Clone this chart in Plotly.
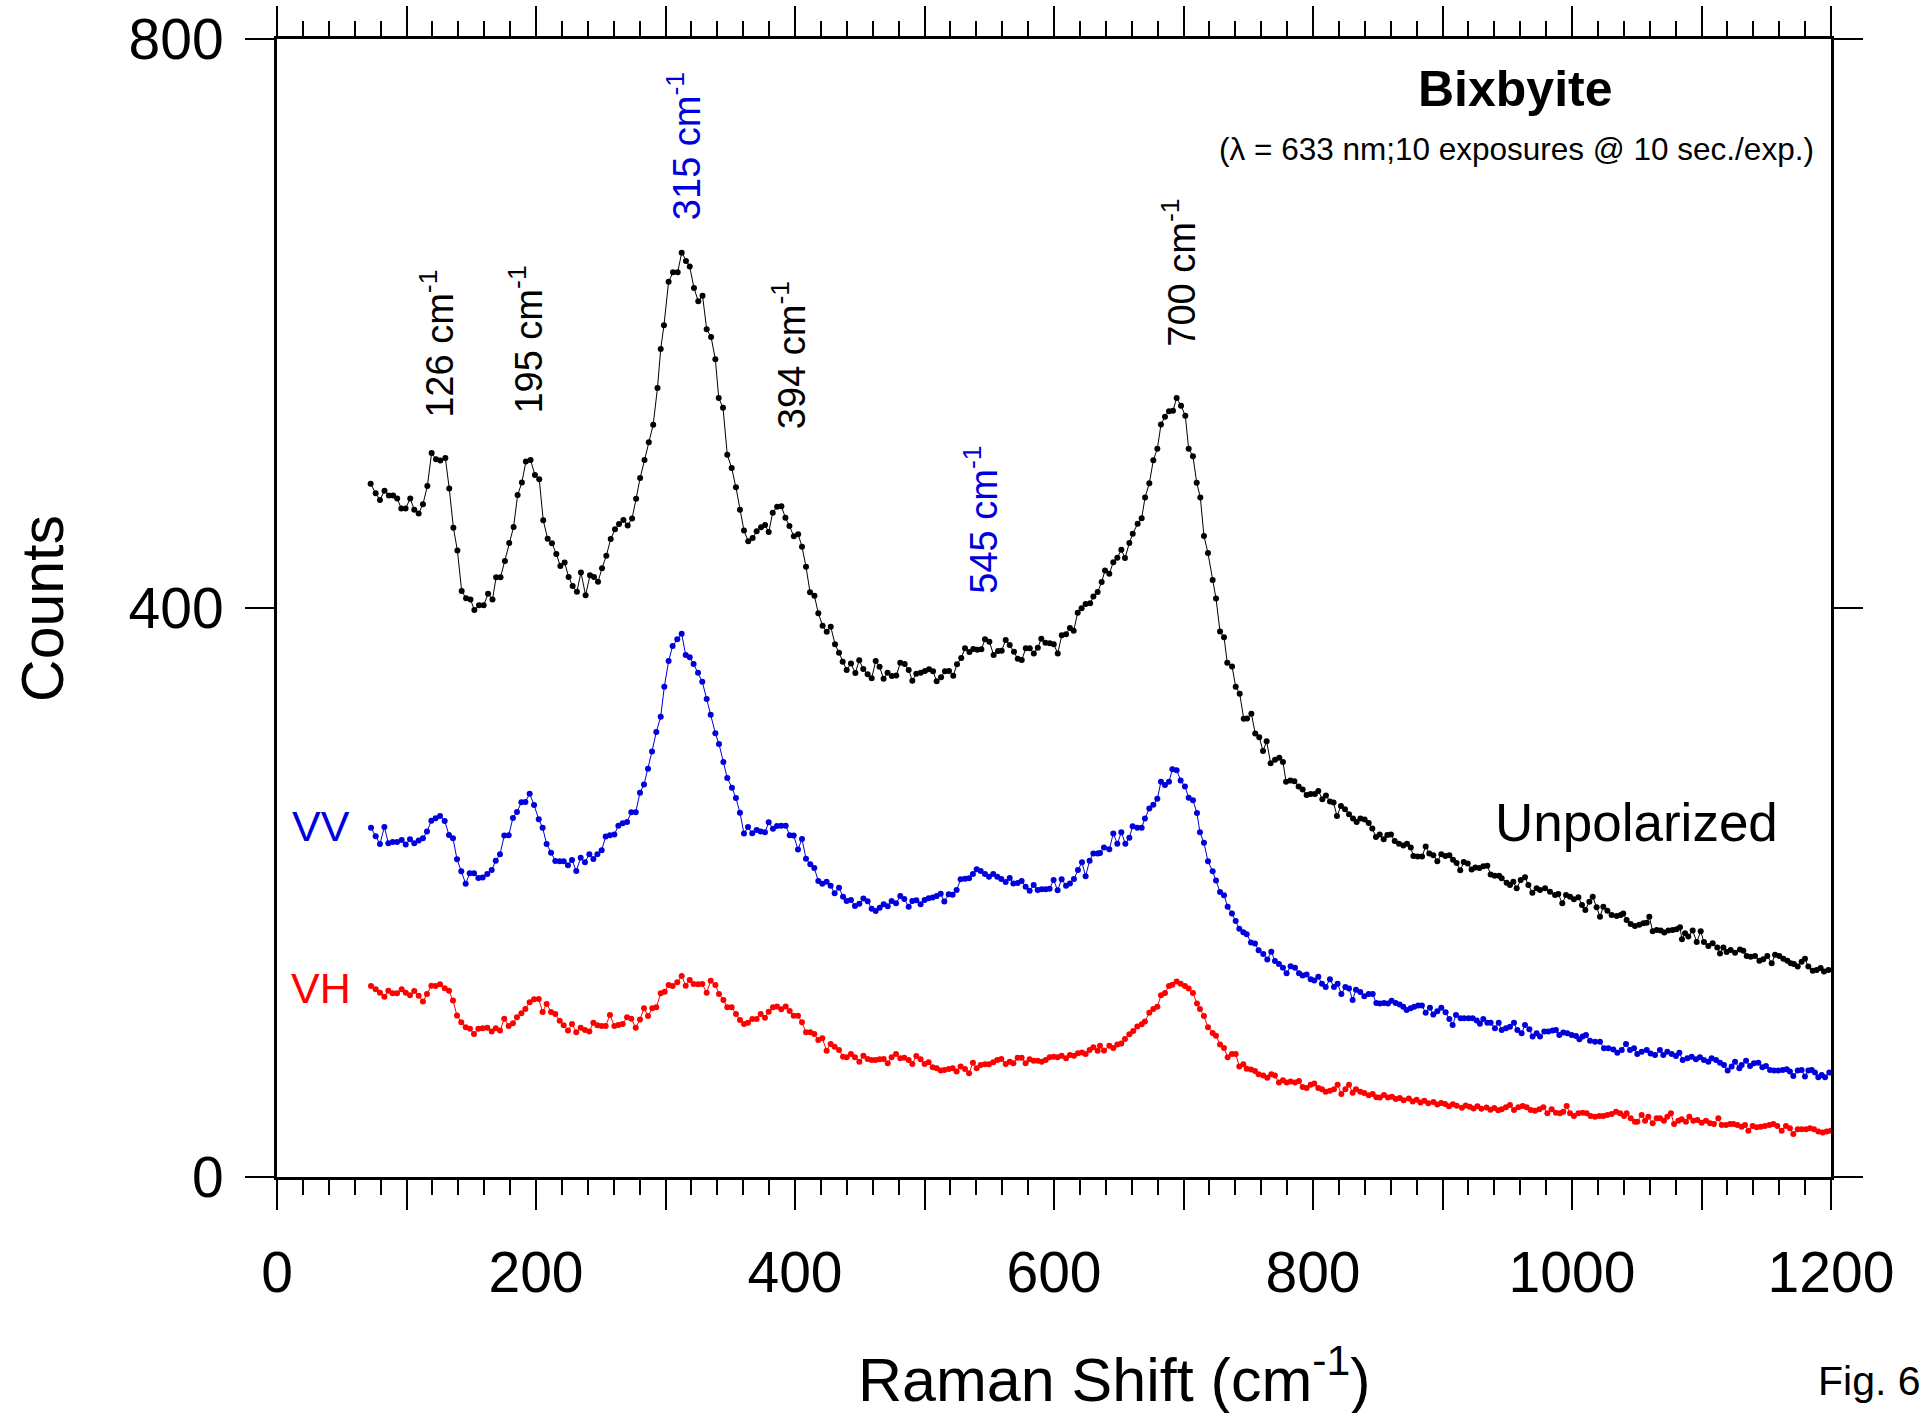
import plotly.graph_objects as go

# ---- data (Raman shift cm-1, counts) ----
UNPOLARIZED = [
(72.3,487.4),(76.2,480.6),(79.5,476.0),(83.0,482.5),(86.4,479.0),(89.7,479.0),(92.8,477.0),(96.0,470.0),
(99.3,470.0),(102.9,477.0),(106.0,469.0),(109.4,466.5),(112.7,473.0),(116.1,485.7),(119.4,509.0),(122.8,504.6),
(126.1,503.7),(130.0,505.5),(133.0,484.0),(136.2,456.5),(139.3,440.5),(142.6,412.0),(146.0,406.8),(149.4,406.0),
(152.4,398.6),(156.0,402.0),(159.6,402.0),(163.0,410.0),(166.4,406.0),(169.2,421.6),(172.6,421.6),(176.0,433.0),
(179.3,445.7),(182.7,457.0),(185.8,479.4),(189.1,488.3),(192.2,503.0),(195.8,504.0),(199.2,493.5),(202.5,490.5),
(205.6,461.6),(209.0,448.7),(212.3,445.5),(215.7,438.0),(218.8,429.5),(222.1,432.0),(225.2,421.8),(228.3,415.5),
(231.6,411.5),(234.7,425.0),(238.3,409.0),(241.7,423.0),(244.8,421.8),(247.9,418.5),(251.0,428.0),(254.3,436.8),
(257.7,448.5),(261.0,455.3),(264.1,459.0),(267.5,461.9),(270.8,458.0),(274.2,463.0),(277.3,476.8),(280.4,491.4),
(283.8,504.0),(287.1,516.5),(290.5,528.9),(293.8,554.7),(296.3,582.0),(298.8,598.7),(302.4,629.4),(305.8,636.0),
(309.4,636.0),(312.5,649.8),(315.8,644.0),(318.7,640.0),(322.0,625.0),(325.3,615.6),(328.6,619.5),(331.8,596.0),
(335.2,590.5),(338.5,574.8),(341.1,547.6),(344.4,540.8),(347.7,507.8),(351.1,498.4),(354.4,484.8),(357.5,469.0),
(360.6,454.4),(363.9,446.9),(367.3,449.2),(370.4,453.9),(373.8,456.7),(376.9,458.3),(379.7,453.4),(382.8,467.0),
(386.2,471.2),(389.5,471.5),(392.6,463.5),(395.7,457.6),(399.1,450.4),(402.4,451.8),(405.4,443.1),(408.5,429.0),
(411.6,411.0),(415.0,408.6),(418.0,396.3),(421.3,387.6),(424.5,383.3),(427.6,386.9),(430.9,374.5),(434.0,368.6),
(436.8,362.3),(439.9,356.4),(443.2,360.9),(446.6,354.3),(449.6,363.2),(452.7,357.1),(456.1,353.4),(459.2,350.6),
(462.3,362.7),(465.3,358.7),(468.4,350.3),(471.5,354.5),(474.8,352.2),(478.2,352.5),(481.3,361.5),(484.7,360.6),
(487.8,356.4),(490.6,348.9),(493.7,353.8),(497.1,354.5),(500.4,355.7),(503.5,356.9),(506.6,355.5),(509.4,348.5),
(512.8,351.3),(515.8,355.5),(518.9,355.7),(522.2,352.4),(525.1,360.4),(528.4,364.8),(531.3,371.7),(534.7,369.1),
(537.7,371.2),(540.8,370.7),(543.9,371.0),(546.7,378.0),(550.1,376.3),(553.4,367.0),(556.8,369.8),(559.6,370.0),
(562.7,377.5),(565.8,374.0),(569.1,369.3),(572.0,364.4),(575.1,363.4),(578.2,371.7),(581.3,371.7),(584.4,368.1),
(587.5,372.1),(590.2,378.4),(593.4,375.6),(596.7,375.2),(599.8,374.5),(602.9,368.1),(606.0,380.8),(609.3,381.5),
(612.3,386.0),(615.2,384.0),(618.3,396.7),(621.3,399.8),(624.4,402.8),(627.9,403.3),(630.4,408.0),(633.7,411.2),
(636.8,418.3),(639.4,426.3),(642.7,424.1),(645.8,432.2),(648.9,435.4),(652.0,440.9),(654.8,435.1),(658.2,445.7),
(660.8,452.2),(664.6,459.3),(667.7,463.1),(670.3,477.7),(673.6,487.7),(676.7,503.8),(679.8,511.9),(682.6,529.0),
(685.7,534.5),(688.8,538.4),(691.9,538.7),(694.7,547.7),(698.1,542.2),(701.4,535.1),(704.0,511.9),(707.3,506.7),
(710.2,488.0),(713.0,477.7),(715.8,450.6),(718.9,438.6),(722.5,419.6),(725.1,406.7),(728.2,383.4),(731.3,379.5),
(733.8,361.5),(737.5,358.9),(740.3,344.7),(743.4,339.8),(746.5,322.1),(749.1,322.4),(752.4,325.6),(755.4,311.8),
(758.5,309.2),(761.4,299.5),(764.2,306.3),(767.3,290.8),(770.7,293.4),(774.0,294.7),(776.8,291.8),(779.2,277.9),
(782.5,278.8),(785.6,278.2),(788.9,274.6),(792.0,272.4),(795.1,268.5),(798.2,269.2),(801.5,269.2),(804.1,271.4),
(807.2,265.6),(810.0,268.2),(813.1,264.0),(815.9,263.3),(818.5,253.7),(821.6,260.8),(824.7,258.5),(827.8,255.0),
(830.9,252.1),(833.7,249.5),(836.6,252.1),(839.9,251.4),(843.0,248.8),(845.8,245.0),(848.6,239.1),(851.5,240.8),
(854.6,237.5),(857.4,240.4),(860.2,240.8),(863.1,236.2),(866.4,234.3),(869.8,233.0),(872.6,234.3),(875.5,231.7),
(877.5,225.6),(880.8,225.3),(884.2,225.3),(887.0,232.4),(889.8,227.5),(892.9,226.2),(896.0,222.0),(899.1,226.9),
(902.2,225.6),(905.3,226.2),(908.1,223.0),(910.9,220.7),(913.7,215.6),(916.4,221.4),(919.5,220.4),(922.5,216.2),
(925.4,217.5),(928.5,217.2),(931.5,218.5),(934.6,218.8),(937.2,212.7),(940.3,211.7),(943.7,211.7),(945.7,210.0),
(949.5,206.9),(952.1,205.3),(954.7,207.6),(957.3,202.9),(960.4,208.8),(963.7,210.7),(966.3,205.3),(969.4,199.9),
(972.7,202.9),(975.3,201.7),(979.2,202.9),(983.0,200.6),(986.9,198.2),(989.4,198.9),(992.5,192.4),(995.4,198.2),
(998.5,197.1),(1001.5,195.2),(1004.9,196.6),(1007.7,191.2),(1010.3,187.7),(1013.4,193.5),(1016.0,197.1),(1019.0,189.6),
(1021.6,183.0),(1024.2,190.0),(1027.3,187.2),(1030.6,184.2),(1034.5,183.5),(1037.6,184.2),(1039.6,185.3),(1042.2,180.7),
(1045.3,177.8),(1048.6,176.4),(1052.0,177.4),(1055.1,178.3),(1057.7,178.8),(1059.7,183.0),(1062.3,172.7),(1065.4,173.6),
(1068.5,173.2),(1071.3,171.8),(1074.4,173.2),(1077.7,173.6),(1080.8,174.1),(1083.4,175.5),(1084.9,167.1),(1087.3,171.3),
(1089.8,169.0),(1093.2,173.2),(1096.3,165.2),(1099.4,172.7),(1101.9,165.2),(1105.3,162.4),(1108.6,164.3),(1112.2,161.4),
(1114.3,157.2),(1116.9,161.4),(1119.4,158.2),(1122.5,159.6),(1125.9,157.7),(1129.7,160.0),(1132.3,159.1),(1134.9,155.4),
(1138.0,154.9),(1141.3,155.4),(1144.7,152.1),(1147.7,153.0),(1150.8,155.4),(1154.2,150.2),(1156.8,156.3),(1160.1,155.4),
(1163.2,153.5),(1166.3,152.1),(1168.9,150.2),(1171.4,149.7),(1174.3,147.9),(1177.3,151.4),(1179.9,153.5),(1182.5,147.9),
(1185.9,145.0),(1189.0,145.5),(1192.0,146.9),(1194.6,144.4),(1198.0,145.5),
]

VV = [
(72.6,245.6),(76.2,239.5),(79.5,234.1),(82.9,246.1),(86.0,234.6),(89.3,235.5),(92.7,235.5),(96.3,236.9),
(99.4,233.7),(102.7,237.4),(106.0,234.6),(109.4,236.5),(112.7,238.1),(115.8,242.8),(119.2,250.5),(122.5,252.2),
(125.9,253.8),(129.5,250.3),(132.8,240.5),(135.9,238.1),(139.0,223.4),(142.3,214.9),(145.7,206.2),(148.8,213.5),
(152.1,213.5),(155.5,210.2),(158.8,210.5),(162.4,213.0),(165.8,215.8),(168.9,222.4),(172.2,226.9),(175.5,240.0),
(178.9,240.2),(182.2,252.4),(185.3,256.6),(188.7,263.4),(191.8,263.6),(195.1,269.5),(198.5,261.5),(202.1,251.5),
(205.1,245.6),(208.2,234.1),(211.6,228.0),(214.9,222.2),(218.3,221.9),(221.4,221.9),(224.7,219.1),(227.8,222.9),
(231.1,215.1),(234.5,224.5),(237.8,221.2),(241.2,226.9),(244.3,223.6),(247.4,226.9),(250.7,229.7),(253.8,239.3),
(257.1,240.2),(260.5,240.7),(263.6,247.0),(266.9,248.7),(270.3,249.6),(273.6,256.4),(277.0,256.4),(280.3,270.2),
(283.4,276.0),(286.5,287.0),(289.6,299.2),(292.9,312.8),(296.3,323.6),(299.1,344.7),(302.4,362.7),(305.5,373.3),
(309.1,378.0),(312.5,381.9),(315.6,366.9),(318.7,365.3),(321.7,360.6),(325.1,354.5),(328.4,348.2),(331.8,336.0),
(334.9,325.0),(338.5,311.9),(341.3,304.4),(344.7,291.7),(347.7,280.5),(351.3,273.7),(354.4,266.4),(357.5,256.1),
(360.6,241.4),(363.7,246.0),(367.0,241.6),(370.4,243.9),(373.5,242.8),(376.8,242.3),(379.7,249.3),(383.0,244.9),
(386.1,246.7),(389.4,247.0),(392.8,247.0),(395.9,240.2),(399.0,240.0),(402.3,230.3),(405.4,237.6),(408.5,223.8),
(411.8,219.8),(414.9,217.2),(418.0,208.1),(421.1,206.2),(424.4,207.6),(427.5,204.8),(430.6,199.4),(434.0,203.4),
(437.1,197.1),(439.9,194.0),(443.2,194.7),(446.3,190.5),(449.7,192.1),(452.8,195.7),(456.1,193.8),(459.2,188.6),
(462.3,187.0),(465.4,189.3),(468.5,191.7),(471.6,190.3),(474.6,194.0),(478.0,192.4),(481.3,197.5),(484.4,195.4),
(487.8,190.0),(490.6,194.0),(493.7,194.5),(497.0,191.7),(500.1,194.7),(503.2,195.9),(506.3,196.4),(509.4,197.5),
(512.5,199.2),(515.3,193.6),(518.7,198.7),(521.7,198.5),(524.8,201.8),(527.9,209.3),(531.3,209.7),(534.4,210.0),
(537.4,213.0),(540.3,216.3),(543.4,215.1),(546.7,213.0),(549.8,211.1),(553.1,213.0),(556.2,211.1),(559.3,209.5),
(562.7,207.4),(565.8,210.2),(568.6,206.4),(571.9,206.7),(575.0,208.1),(578.1,204.1),(581.2,201.3),(584.3,205.3),
(587.4,201.8),(590.5,202.2),(593.6,202.2),(596.6,202.7),(599.7,208.8),(602.8,201.5),(605.9,209.3),(609.3,204.8),
(612.3,206.4),(615.4,209.5),(618.5,215.8),(621.6,221.2),(624.4,211.4),(627.5,222.4),(630.4,227.5),(633.7,227.5),
(635.5,227.8),(638.6,231.7),(642.7,230.4),(645.8,241.4),(648.9,234.3),(652.0,242.3),(655.1,234.3),(658.2,238.5),
(660.7,246.5),(664.3,245.6),(667.7,245.6),(670.2,252.0),(673.6,259.1),(676.7,261.7),(679.8,265.9),(682.6,277.9),
(685.7,275.6),(688.8,277.9),(691.4,286.6),(694.7,285.9),(697.8,278.8),(701.1,274.6),(704.0,266.6),(707.3,264.9),
(710.4,255.9),(712.7,242.3),(715.8,234.9),(718.9,222.0),(722.5,214.9),(725.1,208.4),(728.2,200.4),(731.3,198.1),
(734.1,190.0),(737.4,185.2),(740.3,180.0),(743.1,174.5),(746.2,172.0),(748.8,170.7),(752.1,164.9),(755.2,164.2),
(758.0,159.4),(761.6,156.8),(764.7,152.9),(767.8,158.4),(770.6,151.9),(773.7,149.7),(776.8,147.1),(779.6,143.2),
(782.7,148.1),(786.1,147.1),(789.2,143.2),(792.0,141.6),(795.1,142.3),(798.2,139.1),(801.0,138.1),(804.1,140.7),
(806.9,135.8),(809.8,133.6),(813.1,139.1),(816.2,133.6),(819.0,135.8),(821.9,128.7),(825.0,133.6),(827.8,132.6),
(830.6,124.5),(833.2,131.6),(836.5,130.0),(839.6,127.1),(843.0,128.7),(846.1,128.7),(848.9,122.3),(851.7,121.9),
(854.8,122.3),(857.9,121.9),(860.7,123.9),(863.8,122.3),(866.9,121.3),(869.7,119.7),(872.3,117.4),(875.4,118.7),
(878.2,119.7),(881.3,120.6),(884.1,120.6),(887.0,115.5),(890.3,119.0),(892.9,114.2),(896.0,116.5),(899.1,119.0),
(902.4,115.8),(905.3,111.0),(907.8,106.8),(910.4,113.9),(914.0,111.6),(916.8,111.6),(920.2,111.6),(923.3,111.6),
(926.4,110.0),(928.9,107.7),(931.5,111.0),(934.6,108.4),(937.2,108.4),(940.5,104.5),(943.4,108.4),(945.7,103.3),
(949.0,104.5),(952.1,105.7),(955.2,108.5),(957.8,103.3),(961.1,101.0),(963.7,106.9),(967.1,103.8),(969.6,98.7),
(972.7,101.0),(975.3,98.7),(978.6,102.2),(981.7,102.2),(985.1,102.9),(987.6,103.3),(990.2,99.8),(993.3,101.5),
(996.4,101.0),(999.7,99.8),(1003.1,99.1),(1005.7,96.8),(1008.2,98.7),(1010.8,99.8),(1013.9,95.8),(1017.8,95.1),
(1021.6,95.1),(1024.7,90.5),(1028.1,90.5),(1031.9,89.7),(1035.0,87.4),(1038.4,89.3),(1041.7,93.5),(1044.8,89.3),
(1047.9,90.5),(1050.4,86.5),(1053.8,88.1),(1057.7,89.3),(1060.7,86.9),(1064.1,85.8),(1067.9,89.3),(1070.5,85.8),
(1073.6,88.1),(1077.0,86.5),(1080.3,85.1),(1082.9,87.4),(1085.5,82.2),(1089.1,83.4),(1092.4,84.6),(1095.7,82.7),
(1098.8,84.1),(1101.9,82.2),(1105.3,81.1),(1107.8,83.4),(1111.2,82.2),(1114.3,80.4),(1117.4,78.7),(1120.2,74.8),
(1123.3,77.6),(1125.9,81.1),(1129.2,76.4),(1131.0,78.7),(1134.4,81.8),(1137.5,78.0),(1140.5,79.9),(1143.9,80.4),
(1147.0,77.1),(1149.8,78.0),(1152.9,75.2),(1156.0,74.8),(1159.3,74.8),(1162.7,75.2),(1165.8,75.7),(1168.3,74.1),
(1170.9,71.0),(1174.3,74.8),(1177.3,75.2),(1179.9,70.6),(1182.5,74.8),(1185.1,75.2),(1187.6,73.4),(1190.2,70.1),
(1192.8,71.7),(1195.4,70.1),(1198.7,73.4),
]

VH = [
(72.6,134.3),(76.2,132.0),(79.5,129.6),(82.9,126.8),(86.0,131.0),(89.3,129.2),(92.7,129.2),(96.3,132.0),
(99.4,129.6),(102.7,127.8),(106.0,130.8),(109.4,127.5),(112.7,123.3),(115.8,128.7),(119.2,134.5),(122.5,134.3),
(125.9,135.5),(129.5,132.7),(132.8,131.0),(135.9,124.0),(139.0,113.5),(142.3,108.8),(145.7,105.3),(149.0,104.3),
(152.1,100.6),(155.5,104.3),(158.8,104.6),(162.4,105.0),(165.8,102.2),(168.9,104.6),(172.2,102.9),(175.5,111.3),
(178.9,106.2),(182.2,108.1),(185.3,112.3),(188.7,115.1),(191.8,118.1),(195.1,122.8),(198.5,124.9),(202.1,125.2),
(205.1,116.0),(208.2,121.7),(211.6,116.0),(214.9,114.6),(218.3,109.9),(221.4,106.7),(224.7,102.9),(227.8,107.6),
(231.1,101.8),(234.5,105.0),(237.8,103.4),(241.2,102.2),(244.3,108.5),(247.4,106.7),(250.7,106.2),(253.8,106.2),
(257.1,113.9),(260.5,106.2),(263.6,106.9),(266.9,107.6),(270.3,112.3),(273.6,111.3),(277.0,105.0),(280.3,110.8),
(283.4,118.6),(286.5,113.2),(289.8,118.6),(292.9,119.3),(296.3,129.1),(299.4,130.3),(302.4,135.0),(305.5,134.3),
(309.1,136.9),(312.5,141.3),(315.6,134.5),(318.7,138.5),(321.7,135.7),(325.1,135.5),(328.4,135.7),(331.8,129.6),
(334.9,138.0),(338.5,135.0),(341.3,128.7),(344.7,124.4),(347.7,119.3),(351.1,119.3),(354.4,114.6),(357.5,110.4),
(360.6,107.6),(363.7,108.5),(367.0,111.1),(370.4,111.1),(373.5,114.6),(376.8,112.0),(379.7,116.2),(383.0,119.3),
(386.1,119.8),(389.4,117.9),(392.8,119.8),(395.9,116.7),(399.0,113.4),(402.3,113.4),(405.4,108.7),(408.5,101.7),
(411.8,101.7),(414.9,100.5),(418.0,96.3),(421.1,97.5),(424.4,88.8),(427.5,93.5),(430.6,91.6),(434.0,89.3),
(437.1,84.6),(439.9,84.1),(443.2,86.5),(446.3,84.1),(449.7,81.1),(452.8,85.3),(456.1,83.0),(459.2,82.3),
(462.3,82.3),(465.4,82.7),(468.5,83.0),(471.6,79.9),(474.6,84.1),(478.0,86.5),(481.3,83.4),(484.4,83.9),
(487.8,82.3),(490.6,79.5),(493.7,85.1),(497.0,82.7),(500.1,79.5),(503.2,80.6),(506.3,77.1),(509.4,76.4),
(512.5,74.8),(515.3,75.2),(518.7,75.9),(521.7,76.4),(524.8,74.1),(527.9,77.6),(531.3,75.9),(534.4,72.9),
(537.4,80.4),(540.3,76.4),(543.4,78.7),(546.7,79.2),(549.8,79.2),(553.1,80.6),(556.2,82.3),(559.3,83.0),
(562.7,79.5),(565.8,81.1),(568.6,79.9),(571.9,83.9),(575.0,83.9),(578.1,79.9),(581.2,82.7),(584.3,81.8),
(587.4,81.8),(590.5,81.1),(593.6,82.3),(596.6,84.1),(599.7,84.6),(602.8,84.1),(605.9,85.3),(609.3,83.4),
(612.3,85.8),(615.4,85.3),(618.5,87.0),(621.6,87.6),(624.4,86.5),(627.5,89.3),(630.4,91.2),(633.7,88.8),
(635.5,92.2),(638.6,89.0),(642.7,92.2),(645.8,90.6),(648.9,93.2),(652.0,93.9),(654.8,97.1),(658.2,100.3),
(661.2,102.6),(664.3,105.8),(667.7,107.4),(670.2,109.3),(673.6,115.5),(676.7,118.1),(679.8,119.7),(682.6,127.7),
(685.7,129.4),(688.8,134.2),(691.4,135.2),(694.7,137.4),(697.8,135.8),(701.1,134.2),(704.0,132.6),(707.3,129.4),
(710.4,121.9),(712.7,118.1),(715.8,113.2),(718.9,105.2),(722.5,101.3),(725.1,99.3),(728.2,93.2),(731.3,90.6),
(734.1,84.2),(737.4,86.4),(740.3,86.4),(743.1,77.7),(746.2,79.3),(748.8,76.1),(752.1,75.5),(755.2,74.5),
(758.0,72.2),(761.6,71.3),(764.7,69.7),(767.8,72.2),(770.6,71.3),(773.7,66.4),(776.8,68.0),(779.6,66.4),
(782.7,67.1),(786.1,66.4),(789.2,67.4),(792.0,63.2),(795.1,62.5),(798.2,64.8),(801.0,65.8),(804.1,62.5),
(806.9,61.6),(809.8,60.0),(813.1,60.6),(816.2,61.6),(819.0,64.8),(821.9,58.3),(825.0,61.6),(827.8,64.8),
(830.6,59.3),(833.2,61.6),(836.5,60.0),(839.6,59.0),(843.0,57.4),(846.1,58.3),(848.9,56.1),(851.7,55.8),
(854.8,57.7),(857.9,55.8),(861.0,56.5),(864.0,54.8),(867.0,55.5),(870.0,53.9),(874.0,55.2),(877.0,53.0),
(880.0,54.3),(883.0,52.4),(886.0,53.6),(889.0,51.8),(893.0,52.7),(896.0,50.9),(899.0,52.1),(902.0,51.4),
(905.0,49.8),(908.0,51.2),(911.0,50.1),(915.0,48.6),(918.0,50.3),(921.0,49.4),(924.0,48.2),(927.0,49.7),
(930.0,47.9),(934.0,48.8),(937.0,47.3),(940.0,48.5),(943.0,47.0),(945.7,47.6),(949.0,49.0),(952.1,50.6),
(955.2,47.1),(958.6,49.0),(961.9,49.9),(965.0,49.0),(968.1,47.1),(971.4,46.6),(974.8,47.6),(977.9,49.0),
(981.0,44.8),(984.3,47.6),(987.6,45.2),(990.7,44.8),(993.3,45.9),(995.9,49.9),(998.5,44.8),(1001.5,42.9),
(1004.9,44.8),(1008.2,45.2),(1011.3,44.8),(1014.4,42.9),(1017.8,42.4),(1021.1,42.9),(1024.2,42.9),(1027.3,43.6),
(1030.6,44.3),(1034.0,45.9),(1037.1,44.8),(1040.2,42.9),(1042.2,44.8),(1045.3,41.3),(1048.6,38.9),(1050.4,38.9),
(1053.8,43.6),(1056.4,39.6),(1058.9,42.4),(1062.3,37.7),(1065.4,41.3),(1068.0,41.3),(1071.0,39.6),(1073.6,42.4),
(1076.4,44.8),(1078.8,37.3),(1082.1,39.6),(1084.7,40.6),(1088.0,38.9),(1090.6,42.4),(1093.7,39.6),(1096.8,40.1),
(1100.1,38.2),(1103.5,39.6),(1106.6,37.7),(1109.6,37.3),(1113.0,41.3),(1115.6,36.6),(1118.9,36.6),(1122.0,37.3),
(1124.6,37.3),(1127.7,36.6),(1131.0,35.4),(1133.6,36.6),(1136.2,32.6),(1139.5,35.9),(1142.6,34.9),(1145.7,35.4),
(1149.0,35.9),(1152.4,36.6),(1155.5,37.3),(1158.6,35.9),(1161.9,32.6),(1165.2,35.9),(1168.3,34.2),(1170.9,30.2),
(1174.3,33.5),(1177.3,33.5),(1180.7,33.5),(1183.8,34.2),(1186.9,33.5),(1190.2,31.9),(1193.6,31.2),(1196.7,31.9),
(1199.8,32.6),
]

XLABEL_TICKS = list(range(0, 1201, 200))          # labelled major ticks
XMID_TICKS = list(range(100, 1200, 200))          # unlabelled major ticks
XMINOR = [v for v in range(0, 1201, 20) if v % 100 != 0]
YTICKS = [0, 400, 800]

FONT = "Liberation Sans, Arial, Helvetica, sans-serif"
BLUE = "#0000dd"
RED = "#ff0000"

fig = go.Figure()
for data, color in ((UNPOLARIZED, "#000000"), (VV, BLUE), (VH, RED)):
    xs = [p[0] for p in data]
    ys = [p[1] for p in data]
    fig.add_trace(go.Scatter(x=xs, y=ys, mode="lines+markers",
                             line=dict(color=color, width=1),
                             marker=dict(color=color, size=6, symbol="circle"),
                             showlegend=False, hoverinfo="skip"))

axis_common = dict(showline=True, linewidth=3, linecolor="black", mirror="allticks",
                   ticks="outside", tickwidth=2, tickcolor="black", showgrid=False,
                   zeroline=False, tickfont=dict(family=FONT, size=57, color="black"))

fig.update_layout(
    xaxis=dict(range=[0, 1200], tickmode="array", tickvals=XLABEL_TICKS,
               ticktext=[str(v) for v in XLABEL_TICKS], ticklen=30, ticklabelstandoff=14,
               minor=dict(tickmode="array", tickvals=XMINOR, ticks="outside", ticklen=15,
                          tickwidth=2, tickcolor="black"),
               **axis_common),
    xaxis2=dict(range=[0, 1200], overlaying="x", anchor="y", side="bottom",
                tickmode="array", tickvals=XMID_TICKS, showticklabels=False,
                ticks="outside", ticklen=30, tickwidth=2, tickcolor="black",
                showline=True, linewidth=3, linecolor="black", mirror="allticks",
                showgrid=False, zeroline=False),
    yaxis=dict(range=[0, 800], tickmode="array", tickvals=YTICKS,
               ticktext=[str(v) for v in YTICKS], ticklen=29, ticklabelstandoff=10,
               **axis_common),
)
# invisible helper trace so the overlay axis is drawn
fig.add_trace(go.Scatter(x=[0, 1200], y=[0, 0], xaxis="x2", yaxis="y", mode="markers",
                         marker=dict(opacity=0, size=1), showlegend=False, hoverinfo="skip"))

ann = []
def peak(x, y, label, color):
    ann.append(dict(x=x, y=y, xref="x", yref="y", text=label + " cm<sup>-1</sup>",
                    textangle=-90, showarrow=False, xanchor="center", yanchor="bottom",
                    font=dict(family=FONT, size=38, color=color)))

peak(124, 532, "126", "black")
peak(192, 535, "195", "black")
peak(314, 671, "315", BLUE)
peak(395, 524, "394", "black")
peak(544, 409, "545", BLUE)
peak(697, 582, "700", "black")

ann += [
    dict(x=956, y=765, xref="x", yref="y", text="<b>Bixbyite</b>", showarrow=False,
         font=dict(family=FONT, size=50, color="black")),
    dict(x=957, y=723, xref="x", yref="y", text="(λ = 633 nm;10 exposures @ 10 sec./exp.)",
         showarrow=False, font=dict(family=FONT, size=31.5, color="black")),
    dict(x=1050, y=249, xref="x", yref="y", text="Unpolarized", showarrow=False,
         font=dict(family=FONT, size=53, color="black")),
    dict(x=34, y=247, xref="x", yref="y", text="VV", showarrow=False,
         font=dict(family=FONT, size=43, color=BLUE)),
    dict(x=34, y=133, xref="x", yref="y", text="VH", showarrow=False,
         font=dict(family=FONT, size=43, color=RED)),
    dict(x=0.539, y=-0.174, xref="paper", yref="paper", text="Raman Shift (cm<sup>-1</sup>)",
         showarrow=False, xanchor="center", yanchor="middle",
         font=dict(family=FONT, size=61, color="black")),
    dict(x=-0.1506, y=0.5, xref="paper", yref="paper", text="Counts", textangle=-90,
         showarrow=False, xanchor="center", yanchor="middle",
         font=dict(family=FONT, size=59, color="black")),
    dict(x=1.059, y=-0.179, xref="paper", yref="paper", text="Fig. 6", xanchor="right",
         yanchor="middle", showarrow=False, font=dict(family=FONT, size=41, color="black")),
]

fig.update_layout(width=1926, height=1413, margin=dict(l=277, r=95, t=39, b=236, autoexpand=False),
                  plot_bgcolor="white", paper_bgcolor="white", annotations=ann,
                  font=dict(family=FONT, color="black"), showlegend=False)

fig.write_html("out.html")
